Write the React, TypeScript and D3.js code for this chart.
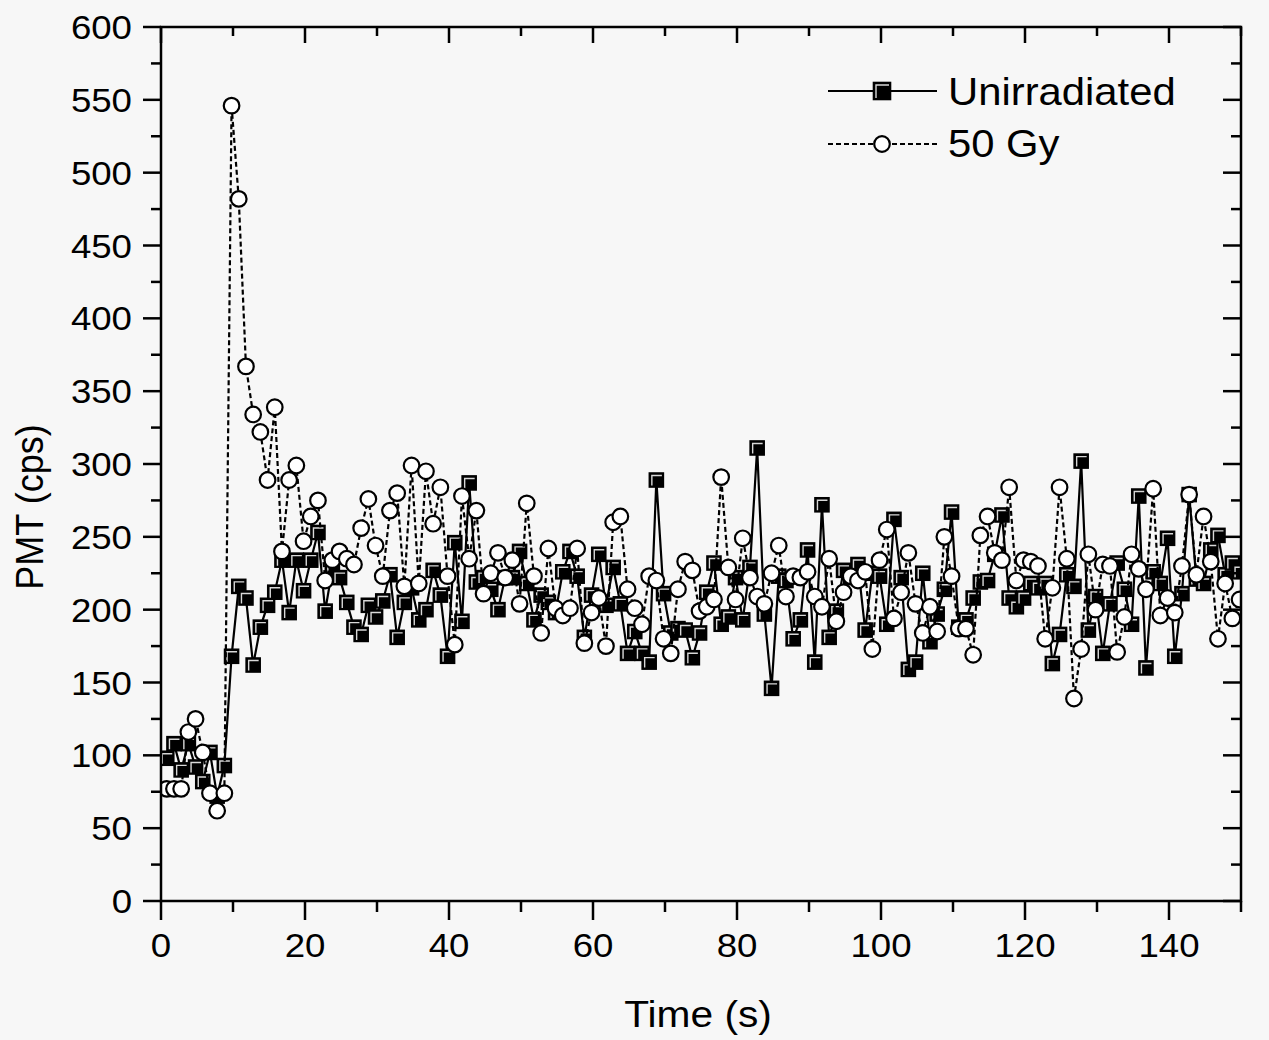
import React from 'react';
import * as d3 from 'd3';

// PMT count rate, one sample per second starting at ~0.8 s
const unirradiated = [
  98, 108, 90, 108, 92, 82, 102, 72, 93, 168,
  216, 208, 162, 188, 203, 212, 234, 198, 234, 213,
  234, 253, 199, 228, 222, 205, 188, 183, 203, 195,
  206, 224, 181, 205, 215, 193, 200, 227, 210, 168,
  246, 192, 287, 219, 222, 214, 200, 222, 222, 240,
  218, 193, 210, 205, 198, 226, 240, 223, 181, 210,
  238, 203, 229, 204, 170, 185, 170, 164, 289, 211,
  184, 187, 186, 167, 184, 212, 232, 190, 195, 222,
  193, 229, 311, 197, 146, 223, 220, 180, 193, 241,
  164, 272, 181, 199, 227, 222, 231, 186, 225, 223,
  190, 262, 222, 159, 164, 225, 178, 197, 214, 267,
  188, 193, 208, 219, 220, 238, 265, 208, 202, 208,
  218, 215, 218, 163, 183, 224, 216, 302, 186, 209,
  170, 204, 232, 214, 190, 278, 160, 226, 218, 249,
  168, 211, 279, 221, 218, 241, 251, 224, 232, 226,
];

const gy50 = [
  77, 77, 77, 116, 125, 102, 74, 62, 74, 546,
  482, 367, 334, 322, 289, 339, 240, 289, 299, 247,
  264, 275, 220, 234, 240, 235, 231, 256, 276, 244,
  223, 268, 280, 216, 299, 218, 295, 259, 284, 223,
  176, 278, 235, 268, 211, 225, 239, 222, 234, 204,
  273, 223, 184, 242, 201, 196, 201, 242, 177, 198,
  208, 175, 260, 264, 214, 201, 190, 223, 220, 180,
  170, 214, 233, 227, 199, 202, 207, 291, 229, 207,
  249, 222, 209, 204, 225, 244, 209, 223, 222, 226,
  209, 202, 235, 192, 212, 223, 220, 226, 173, 234,
  255, 194, 212, 239, 204, 184, 202, 185, 250, 223,
  187, 187, 169, 251, 264, 239, 234, 284, 220, 234,
  233, 230, 180, 215, 284, 235, 139, 173, 238, 200,
  231, 230, 171, 195, 238, 228, 214, 283, 196, 208,
  198, 230, 279, 224, 264, 233, 180, 218, 194, 207,
];

const seriesNames = ['Unirradiated', '50 Gy'];
const xMajorTicks = [0, 20, 40, 60, 80, 100, 120, 140];
const yMajorTicks = [0, 50, 100, 150, 200, 250, 300, 350, 400, 450, 500, 550, 600];

const T0 = 0.8;
const DT = 1;

const FONT = '"Liberation Sans", Arial, Helvetica, sans-serif';
const BG = '#f7f7f7';

function Square({ cx, cy, s = 14 }: { cx: number; cy: number; s?: number }) {
  const h = s / 2;
  return (
    <g transform={`translate(${cx},${cy})`}>
      <rect x={-h} y={-h} width={s} height={s} fill="#000" stroke="#000" strokeWidth={1.6} />
      <path d={`M${-h + 2.5},${h - 1.5} L${-h + 2.5},${-h + 2.5} L${h - 1.5},${-h + 2.5}`} fill="none" stroke="#d8d8d8" strokeWidth={1.4} />
    </g>
  );
}

function Circle({ cx, cy }: { cx: number; cy: number }) {
  return <circle cx={cx} cy={cy} r={7.8} fill="#fff" stroke="#000" strokeWidth={2.2} />;
}

function SText({ x, y, size, anchor = 'start', sx = 1.11, children }: any) {
  return (
    <text
      transform={`translate(${x},${y}) scale(${sx},1)`}
      textAnchor={anchor}
      fontFamily={FONT}
      fontSize={size}
      fill="#000"
    >
      {children}
    </text>
  );
}

export default function App() {
  const W = 1269;
  const H = 1040;
  const left = 161, right = 1241, top = 27, bottom = 901;

  const x = d3.scaleLinear().domain([0, 150]).range([left, right]);
  const y = d3.scaleLinear().domain([0, 600]).range([bottom, top]);

  const times = unirradiated.map((_, i) => T0 + i * DT);
  const ptsA = unirradiated.map((v, i) => [x(times[i]), y(v)] as [number, number]);
  const ptsB = gy50.map((v, i) => [x(T0 + i * DT), y(v)] as [number, number]);
  const line = d3.line();

  const xMinor = d3.range(0, 151, 10).filter(t => !xMajorTicks.includes(t));
  const yMinor = d3.range(25, 600, 50);

  return (
    <div style={{ position: 'absolute', left: 0, top: 0, width: W, height: H, background: BG }}>
      <svg width={W} height={H} style={{ display: 'block' }}>
        <rect width={W} height={H} fill={BG} />
        <defs>
          <clipPath id="plot">
            <rect x={left} y={top} width={right - left} height={bottom - top} />
          </clipPath>
        </defs>

        <g clipPath="url(#plot)">
          <path d={line(ptsA) || ''} fill="none" stroke="#000" strokeWidth={2.2} />
          {ptsA.map((p, i) => <Square key={'a' + i} cx={p[0]} cy={p[1]} />)}
          <path d={line(ptsB) || ''} fill="none" stroke="#000" strokeWidth={2.2} strokeDasharray="5,3" />
          {ptsB.map((p, i) => <Circle key={'b' + i} cx={p[0]} cy={p[1]} />)}
        </g>

        {/* frame */}
        <rect x={left} y={top} width={right - left} height={bottom - top} fill="none" stroke="#000" strokeWidth={2.5} />

        {/* bottom / top ticks */}
        {xMajorTicks.map(t => (
          <g key={'xt' + t}>
            <line x1={x(t)} x2={x(t)} y1={bottom} y2={bottom + 19} stroke="#000" strokeWidth={2.5} />
            <line x1={x(t)} x2={x(t)} y1={top} y2={top + 16} stroke="#000" strokeWidth={2.5} />
            <SText x={x(t)} y={957} size={33} anchor="middle">{t}</SText>
          </g>
        ))}
        {xMinor.map(t => (
          <g key={'xm' + t}>
            <line x1={x(t)} x2={x(t)} y1={bottom} y2={bottom + 11} stroke="#000" strokeWidth={2.5} />
            <line x1={x(t)} x2={x(t)} y1={top} y2={top + 9} stroke="#000" strokeWidth={2.5} />
          </g>
        ))}

        {/* left / right ticks */}
        {yMajorTicks.map(v => (
          <g key={'yt' + v}>
            <line x1={left - 18} x2={left} y1={y(v)} y2={y(v)} stroke="#000" strokeWidth={2.5} />
            <line x1={right - 18} x2={right} y1={y(v)} y2={y(v)} stroke="#000" strokeWidth={2.5} />
            <SText x={132} y={y(v) + 12} size={33} anchor="end">{v}</SText>
          </g>
        ))}
        {yMinor.map(v => (
          <g key={'ym' + v}>
            <line x1={left - 10} x2={left} y1={y(v)} y2={y(v)} stroke="#000" strokeWidth={2.5} />
            <line x1={right - 10} x2={right} y1={y(v)} y2={y(v)} stroke="#000" strokeWidth={2.5} />
          </g>
        ))}

        {/* axis titles */}
        <SText x={698} y={1027} size={37} anchor="middle" sx={1.1}>Time (s)</SText>
        <text
          transform="translate(43,507) scale(1.1,1) rotate(-90)"
          textAnchor="middle"
          fontFamily={FONT}
          fontSize={36}
          fill="#000"
        >
          PMT (cps)
        </text>

        {/* legend */}
        <line x1={828} x2={937} y1={91} y2={91} stroke="#000" strokeWidth={2} />
        <Square cx={882} cy={91} s={17} />
        <SText x={948} y={105} size={38} sx={1.1}>{seriesNames[0]}</SText>
        <line x1={828} x2={937} y1={144} y2={144} stroke="#000" strokeWidth={2} strokeDasharray="5,3" />
        <Circle cx={882} cy={144} />
        <SText x={948} y={157} size={38} sx={1.1}>{seriesNames[1]}</SText>
      </svg>
    </div>
  );
}
